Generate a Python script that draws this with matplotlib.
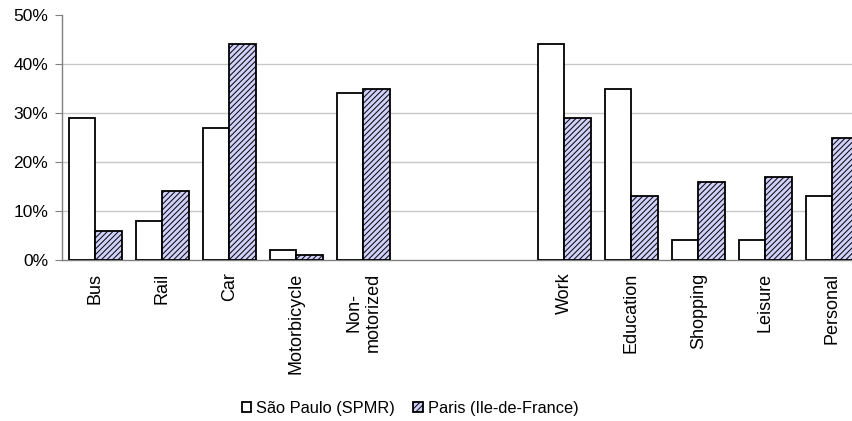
import matplotlib
matplotlib.use('Agg')
import matplotlib.pyplot as plt
import numpy as np

plt.rcParams['font.family'] = ['Liberation Sans', 'DejaVu Sans']
plt.rcParams['hatch.color'] = '#a8a8b8'
plt.rcParams['hatch.linewidth'] = 0.7

categories = ["Bus", "Rail", "Car", "Motorbicycle", "Non-\nmotorized", "", "",
              "Work", "Education", "Shopping", "Leisure", "Personal"]
sao_paulo = [29, 8, 27, 2, 34, np.nan, np.nan, 44, 35, 4, 4, 13]
paris = [6, 14, 44, 1, 35, np.nan, np.nan, 29, 13, 16, 17, 25]
yticks = [0, 10, 20, 30, 40, 50]

fig = plt.figure(figsize=(8.52, 4.21), dpi=100)
# axes run past the right edge, like the original crop
ax = fig.add_axes([62/852, 1 - 260/421, 804/852, 245/421])

x = np.arange(len(categories))
w = 0.39
ax.bar(x, sao_paulo, width=-w, align='edge', color='white',
       edgecolor='black', linewidth=1.3, label='São Paulo (SPMR)', zorder=3)
ax.bar(x, paris, width=w, align='edge', color='#d0d0fa', hatch='//////',
       edgecolor='black', linewidth=1.3, label='Paris (Ile-de-France)', zorder=3)

ax.set_xlim(-0.5, len(categories) - 0.5)
ax.set_ylim(0, 50)
ax.set_yticks(yticks)
ax.set_yticklabels([f"{t}%" for t in yticks], fontsize=12.5)
for t in yticks[1:-1]:
    ax.axhline(t, color='#c8c8c8', linewidth=1, zorder=1)

ax.set_xticks(x)
ax.set_xticklabels(categories, rotation=90, fontsize=13, multialignment='center')
ax.tick_params(axis='x', length=0, pad=9)
ax.tick_params(axis='y', length=5, color='#808080', pad=5)

for s in ['top', 'right']:
    ax.spines[s].set_visible(False)
ax.spines['left'].set_color('#808080')
ax.spines['bottom'].set_color('#808080')
ax.spines['left'].set_linewidth(1)
ax.spines['bottom'].set_linewidth(1)

handles, labels = ax.get_legend_handles_labels()
fig.legend(handles, labels, loc='center', bbox_to_anchor=(410/852, 1 - 408/421),
           ncol=2, frameon=False, fontsize=11.8, handlelength=0.6,
           handleheight=0.6, handletextpad=0.3, columnspacing=1.1)

fig.savefig('out.png', dpi=100)
